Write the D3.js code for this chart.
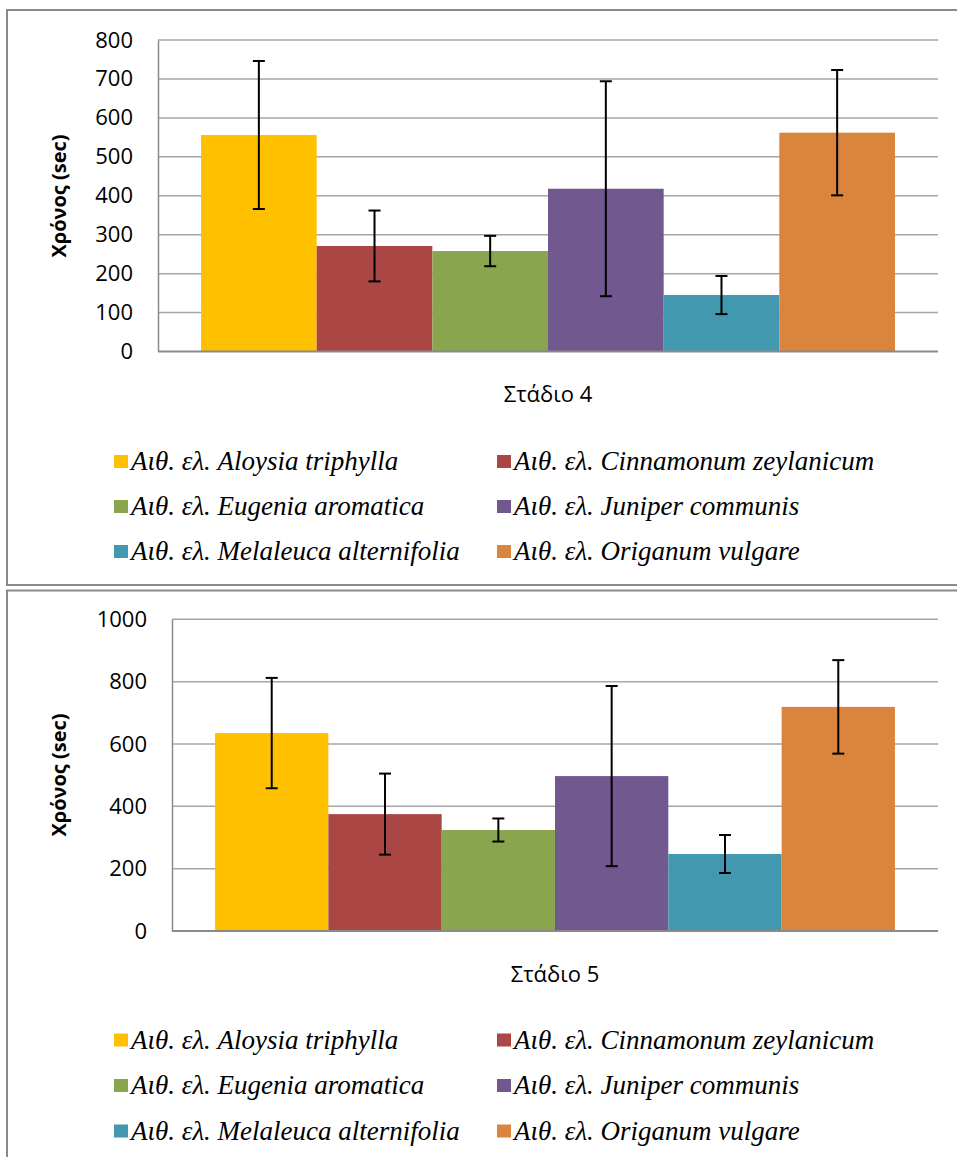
<!DOCTYPE html>
<html><head><meta charset="utf-8">
<script src="https://cdn.jsdelivr.net/npm/d3@7"></script>
<style>
html,body{margin:0;padding:0;background:#fff;}
svg{display:block;}
</style></head>
<body>
<svg id="chart" width="957" height="1157"></svg>
<script>
const categories = [
  "Αιθ. ελ. Aloysia triphylla",
  "Αιθ. ελ. Cinnamonum zeylanicum",
  "Αιθ. ελ. Eugenia aromatica",
  "Αιθ. ελ. Juniper communis",
  "Αιθ. ελ. Melaleuca alternifolia",
  "Αιθ. ελ. Origanum vulgare"
];
const colors = ["#FFC000", "#AA4643", "#89A54E", "#71588F", "#4198AF", "#DB843D"];
const stage4Means  = [556, 271, 258, 418, 145, 562];
const stage4Errors = [190, 91, 39, 276, 49, 161];
const stage4Ticks  = [0, 100, 200, 300, 400, 500, 600, 700, 800];
const stage5Means  = [635, 375, 324, 497, 247, 719];
const stage5Errors = [177, 130, 37, 289, 61, 150];
const stage5Ticks  = [0, 200, 400, 600, 800, 1000];
const xLabels = ["Στάδιο 4", "Στάδιο 5"];
const yTitle = "Χρόνος (sec)";

const svg = d3.select("#chart");

function panel(cfg) {
  const g = svg.append("g");
  // panel border
  g.append("rect").attr("x", 7).attr("y", cfg.top).attr("width", 1000).attr("height", cfg.height)
    .attr("fill", "none").attr("stroke", "#8a8a8a").attr("stroke-width", 2);

  const y = d3.scaleLinear().domain([0, d3.max(cfg.ticks)]).range([cfg.plotBottom, cfg.plotTop]);
  const x = d3.scaleBand().domain(categories).range([cfg.plotLeft, cfg.plotRight])
    .paddingInner(0).paddingOuter(cfg.outer);

  // gridlines
  g.append("g").selectAll("line").data(cfg.ticks.filter(t => t > 0)).join("line")
    .attr("x1", cfg.plotLeft).attr("x2", cfg.plotRight)
    .attr("y1", d => y(d)).attr("y2", d => y(d))
    .attr("stroke", "#a6a6a6").attr("stroke-width", 1.5);

  // y axis
  const yAxis = d3.axisLeft(y).tickValues(cfg.ticks).tickSize(0).tickPadding(25).tickFormat(d3.format("d"));
  const ya = g.append("g").attr("transform", `translate(${cfg.plotLeft},0)`).call(yAxis);
  ya.select(".domain").attr("stroke", "#8a8a8a").attr("stroke-width", 1.5);
  ya.selectAll("text").attr("font-family", "'Open Sans', sans-serif").attr("font-size", 22).attr("fill", "#000");

  // bars
  g.append("g").selectAll("rect").data(cfg.means).join("rect")
    .attr("x", (d, i) => x(categories[i]))
    .attr("width", x.bandwidth())
    .attr("y", d => y(d))
    .attr("height", d => y(0) - y(d))
    .attr("fill", (d, i) => colors[i]);

  // x axis line
  g.append("line").attr("x1", cfg.plotLeft).attr("x2", cfg.plotRight)
    .attr("y1", y(0)).attr("y2", y(0)).attr("stroke", "#8a8a8a").attr("stroke-width", 2);

  // error bars
  const eb = g.append("g").attr("stroke", "#000").attr("stroke-width", 2);
  cfg.means.forEach((m, i) => {
    const cx = x(categories[i]) + x.bandwidth() / 2;
    const e = cfg.errors[i];
    eb.append("line").attr("x1", cx).attr("x2", cx).attr("y1", y(m + e)).attr("y2", y(m - e));
    eb.append("line").attr("x1", cx - 6).attr("x2", cx + 6).attr("y1", y(m + e)).attr("y2", y(m + e));
    eb.append("line").attr("x1", cx - 6).attr("x2", cx + 6).attr("y1", y(m - e)).attr("y2", y(m - e));
  });

  // x label
  g.append("text").attr("x", cfg.xLabelX).attr("y", cfg.xLabelY).attr("text-anchor", "middle")
    .attr("dominant-baseline", "central")
    .attr("font-family", "'Open Sans', sans-serif").attr("font-size", 22).text(cfg.xLabel);

  // y title
  g.append("text").attr("transform", `translate(58,${cfg.titleY}) rotate(-90)`)
    .attr("text-anchor", "middle").attr("dominant-baseline", "central")
    .attr("font-family", "'Open Sans', sans-serif").attr("font-weight", "bold").attr("font-size", 20)
    .text(yTitle);

  // legend
  const lg = g.append("g");
  categories.forEach((c, i) => {
    const col = i % 2, row = Math.floor(i / 2);
    const lx = col === 0 ? 114 : 497;
    const ly = cfg.legendTop + row * cfg.legendStep;
    lg.append("rect").attr("x", lx).attr("y", ly - 6.5).attr("width", 14).attr("height", 13).attr("fill", colors[i]);
    lg.append("text").attr("x", lx + 17).attr("y", ly + 8.5)
      .attr("font-family", "'Liberation Serif', 'Times New Roman', serif").attr("font-style", "italic")
      .attr("font-size", 27).text(c);
  });
}

panel({top: 10, height: 575, plotLeft: 158, plotRight: 938, plotTop: 40, plotBottom: 351.5, outer: 0.372,
  ticks: stage4Ticks, means: stage4Means, errors: stage4Errors, xLabel: xLabels[0], xLabelX: 548, xLabelY: 393,
  titleY: 196, legendTop: 461.5, legendStep: 45});
panel({top: 590.5, height: 600, plotLeft: 172, plotRight: 938, plotTop: 619.3, plotBottom: 931, outer: 0.38,
  ticks: stage5Ticks, means: stage5Means, errors: stage5Errors, xLabel: xLabels[1], xLabelX: 555, xLabelY: 973,
  titleY: 775, legendTop: 1040, legendStep: 45.5});
</script>
</body></html>
